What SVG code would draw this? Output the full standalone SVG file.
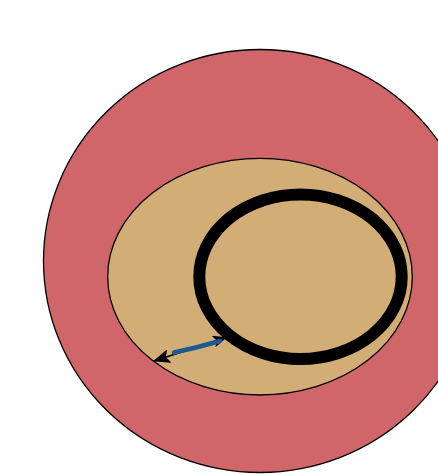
<svg xmlns="http://www.w3.org/2000/svg" width="438" height="475" viewBox="0 0 438 475">
<style>
.shape{stroke:#000;stroke-width:1.3}
.ring{fill:none;stroke:#000;stroke-width:12}
.dim{stroke:#000;stroke-width:1.5;fill:none}
.dimfill{stroke:#1b5a93;stroke-width:4.5;stroke-linecap:round;fill:none}
</style>
<defs>
<marker id="ah" viewBox="0 0 14 12" refX="13" refY="6" markerWidth="14" markerHeight="12" markerUnits="userSpaceOnUse" orient="auto-start-reverse">
<path d="M0,0 L14,6 L0,12 L3,6 Z" fill="#000"/>
</marker>
<marker id="ahL" viewBox="0 0 17 14" refX="16" refY="7" markerWidth="17" markerHeight="14" markerUnits="userSpaceOnUse" orient="auto-start-reverse">
<path d="M0,0 L17,7 L0,14 L3.5,7 Z" fill="#000"/>
</marker>
</defs>
<rect width="438" height="475" fill="#fff"/>
<g id="outer">
<ellipse class="shape" cx="260" cy="261" rx="216.5" ry="211.5" fill="#d0666a"/>
</g>
<g id="inner">
<ellipse class="shape" cx="260" cy="276.7" rx="152.3" ry="118.3" fill="#d3ad76"/>
</g>
<g id="ring">
<ellipse class="ring" cx="300.5" cy="276.7" rx="101.2" ry="82.3"/>
</g>
<g id="connectors">
<path class="dim" d="M154,361 L226,337.5" marker-start="url(#ahL)" marker-end="url(#ah)"/>
<path class="dimfill" d="M174,352.5 Q196,348 220,341"/>
</g>
</svg>
